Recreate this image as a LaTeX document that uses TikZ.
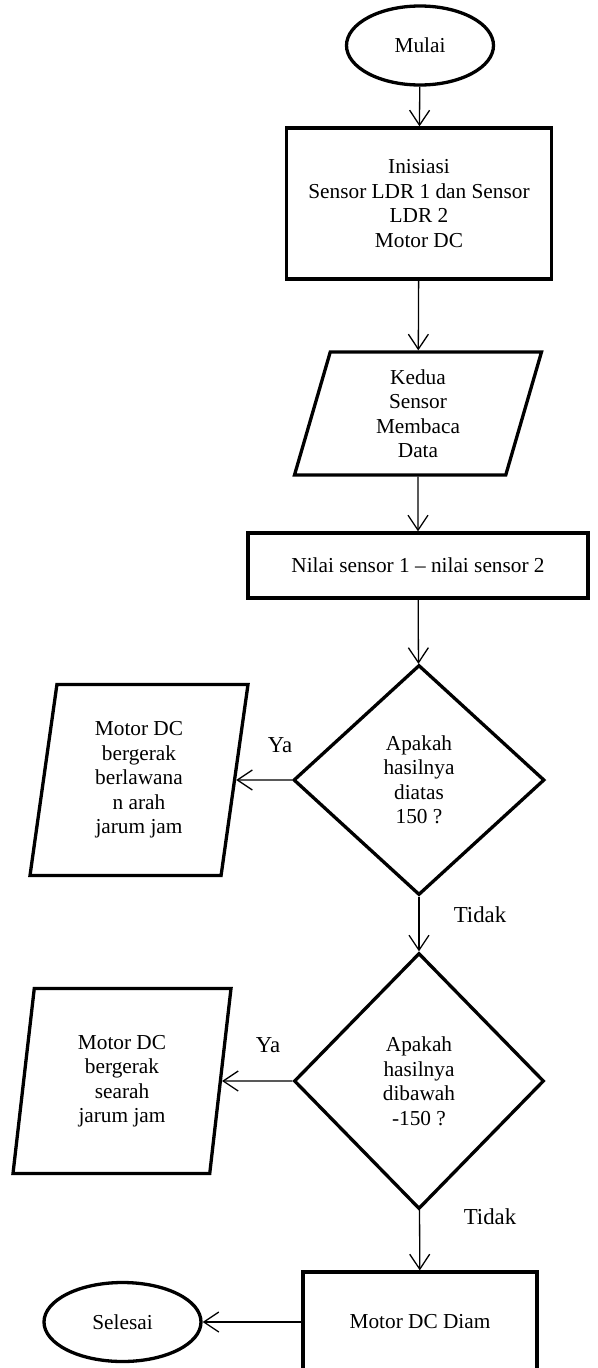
\documentclass[tikz,border=0pt]{standalone}
\usepackage{fontspec}
\setmainfont{Liberation Serif}
\usetikzlibrary{shapes.geometric,arrows.meta}

\begin{document}
\begin{tikzpicture}[x=1pt,y=-1pt,
    every node/.style={font=\fontsize{21.3}{24.5}\selectfont, align=center},
    terminal/.style={ellipse, draw, line width=3.3pt, inner sep=0pt},
    proses/.style={rectangle, draw, line width=3.3pt, inner sep=0pt},
    masukan/.style={trapezium, trapezium stretches body, draw, line width=3.3pt, inner sep=0pt},
    keputusan/.style={diamond, draw, line width=3.3pt, inner sep=0pt},
    ket/.style={font=\fontsize{22.8}{26}\selectfont},
    panah/.style={-{Straight Barb[length=15pt,width=20pt]}, line width=1.3pt}]
    \useasboundingbox (0,0) rectangle (597,1368);
    \node[terminal, minimum width=147pt, minimum height=79pt] (mulai) at (420,45.5) {Mulai};
    \node[proses, minimum width=265pt, minimum height=151pt] (inisiasi) at (419,203.5) {Inisiasi\\Sensor LDR 1 dan Sensor\\LDR 2\\Motor DC};
    \node[masukan, trapezium left angle=68, trapezium right angle=112, minimum width=247pt, minimum height=123pt] (baca) at (418,413.5) {Kedua\\Sensor\\Membaca\\Data};
    \node[proses, minimum width=340pt, minimum height=65pt] (selisih) at (418,565.5) {Nilai sensor 1 – nilai sensor 2};
    \node[keputusan, minimum width=251pt, minimum height=230pt] (cek1) at (419,780) {Apakah\\hasilnya\\diatas\\150 ?};
    \node[masukan, trapezium left angle=77, trapezium right angle=103, minimum width=218pt, minimum height=191pt] (berlawanan) at (139,780) {Motor DC\\bergerak\\berlawana\\n arah\\jarum jam};
    \node[keputusan, minimum width=250pt, minimum height=256pt] (cek2) at (419,1081) {Apakah\\hasilnya\\dibawah\\-150 ?};
    \node[masukan, trapezium left angle=77, trapezium right angle=103, minimum width=218pt, minimum height=185pt] (searah) at (122,1081) {Motor DC\\bergerak\\searah\\jarum jam};
    \node[proses, minimum width=234pt, minimum height=100pt] (diam) at (420,1322) {Motor DC Diam};
    \node[terminal, minimum width=157pt, minimum height=79pt] (selesai) at (122.5,1322) {Selesai};
    \node[ket] (ya1) at (280,745) {Ya};
    \node[ket] (ya2) at (268,1045) {Ya};
    \node[ket] (tidak1) at (480,915) {Tidak};
    \node[ket] (tidak2) at (490,1217) {Tidak};
    \draw[panah] (mulai) -- (inisiasi);
    \draw[panah] (inisiasi) -- (baca);
    \draw[panah] (baca) -- (selisih);
    \draw[panah] (selisih) -- (cek1);
    \draw[panah] (cek1) -- (berlawanan);
    \draw[panah] (cek1) -- (cek2);
    \draw[panah] (cek2) -- (searah);
    \draw[panah] (cek2) -- (diam);
    \draw[panah] (diam) -- (selesai);
\end{tikzpicture}
\end{document}
